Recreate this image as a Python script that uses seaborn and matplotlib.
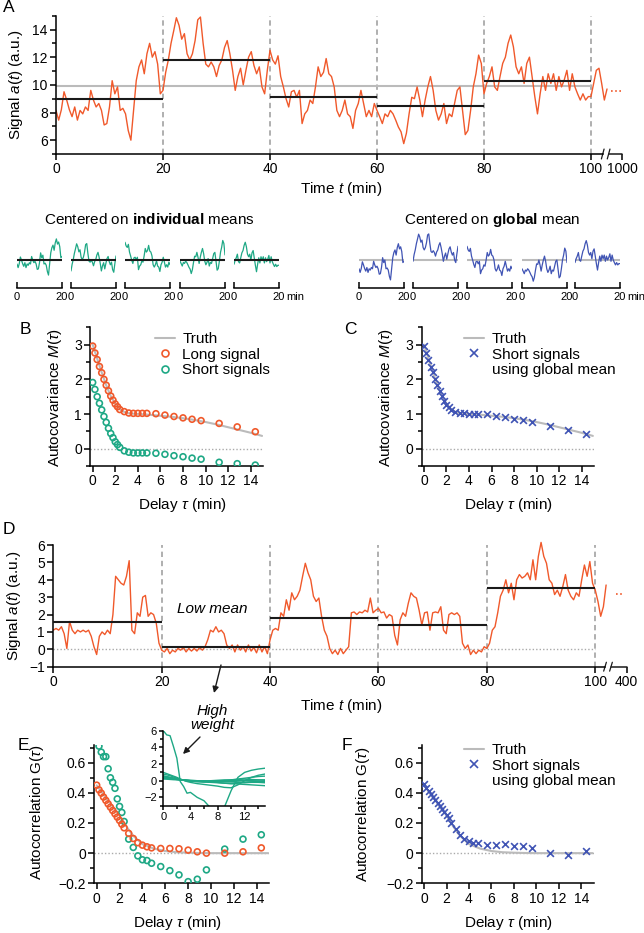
import numpy as np
import matplotlib
matplotlib.use("Agg")
import matplotlib.pyplot as plt
import seaborn as sns
from matplotlib.lines import Line2D

# ---- panel A: long signal (values every 0.5 min) ----
a_sig = [8.15, 7.45, 8.2, 9.5, 8.9, 8.2, 7.7, 8.4, 7.45, 8.15, 7.9, 8.4, 8.15, 9.6, 8.9, 8.4, 8.65, 8.15, 7.1, 7.2,
         8.4, 10.3, 9.35, 9.85, 8.15, 8.3, 7.9, 6.7, 6.0, 8.15, 10.3, 11.3, 11.8, 10.8, 12.25, 13.0, 12.0, 12.4, 11.5, 9.35,
         9.6, 10.9, 11.8, 13.0, 13.9, 14.85, 14.3, 13.3, 13.7, 12.25, 11.8, 12.25, 13.2, 14.7, 14.9, 13.0, 11.5, 11.3, 11.65, 11.3,
         10.6, 11.4, 11.8, 12.7, 13.2, 12.25, 11.05, 9.6, 10.6, 11.2, 10.0, 11.05, 12.0, 12.4, 11.4, 10.8, 11.3, 9.85, 9.35, 11.05,
         12.5, 11.8, 11.5, 12.1, 10.6, 9.85, 9.0, 8.4, 9.5, 9.6, 9.1, 9.6, 7.2, 7.9, 8.15, 8.9, 8.65, 9.85, 11.3, 10.6,
         10.9, 11.9, 10.8, 10.6, 9.85, 8.15, 7.7, 8.15, 8.9, 7.9, 7.7, 6.85, 8.15, 8.65, 9.6, 8.65, 7.7, 8.15, 7.7, 8.65,
         8.15, 7.7, 7.2, 7.9, 7.7, 8.15, 7.9, 7.45, 6.95, 6.6, 5.75, 6.5, 7.9, 9.1, 9.0, 9.85, 8.9, 7.7, 8.9, 9.85,
         10.6, 9.6, 8.15, 7.45, 7.9, 8.65, 7.2, 7.9, 7.7, 8.65, 9.6, 9.85, 8.15, 6.4, 6.7, 8.15, 9.85, 10.8, 12.15, 11.55,
         9.35, 10.1, 10.6, 11.3, 9.85, 9.6, 10.6, 11.55, 12.0, 13.0, 13.6, 12.75, 11.3, 10.8, 11.3, 10.1, 11.55, 12.0, 10.6, 9.15,
         7.9, 9.35, 10.6, 9.6, 10.8, 10.1, 10.8, 9.6, 10.6, 9.85, 10.35, 11.05, 9.6, 10.8, 9.85, 9.35, 8.9, 9.35, 8.9, 9.15,
         9.15, 10.1, 11.05, 11.2, 10.1, 8.9, 9.7]
a_means = [9.0, 11.8, 9.15, 8.45, 10.25]
a_global = 9.93

# ---- panel D: signal with low-mean piece ----
d_sig = [1.1, 1.2, 1.1, 1.3, 0.9, 0.05, 1.6, 1.1, 0.9, 1.1, 1.0, 1.1, 1.0, 1.1, 0.75, 0.15, -0.3, 0.75, 1.0, 0.85,
         1.1, 0.9, 2.0, 4.2, 4.0, 3.8, 3.7, 4.2, 5.1, 1.1, 0.9, 2.1, 1.9, 3.0, 3.1, 1.9, 2.1, 2.0, 1.5, 0.35,
         -0.05, -0.15, 0.05, -0.25, -0.05, -0.15, 0.05, -0.05, 0.1, -0.15, 0.05, -0.1, 0.05, -0.1, 0.1, -0.05, 0.15, 0.55, 1.1, 1.0,
         1.3, 1.0, 1.1, 0.9, 0.25, 0.05, 0.25, -0.15, 0.25, -0.05, 0.15, -0.15, 0.25, -0.1, 0.1, -0.2, 0.25, -0.15, 0.15, -0.25,
         0.55, 1.1, 1.2, 1.1, 2.1, 1.9, 2.85, 2.25, 3.25, 2.85, 3.05, 3.4, 4.2, 4.95, 4.4, 4.0, 3.05, 2.75, 2.95, 1.9,
         1.1, 0.75, 0.05, -0.25, -0.05, -0.3, 0.05, -0.25, -0.05, 0.15, 2.1, 2.15, 2.0, 2.15, 2.1, 2.25, 2.15, 2.95, 2.1, 2.25,
         2.35, 2.1, 2.15, 1.8, 2.0, 1.9, 0.8, 0.25, 1.7, 2.1, 1.9, 2.65, 3.25, 3.05, 2.95, 2.25, 1.4, 2.1, 2.15, 1.1,
         2.1, 2.15, 2.1, 2.45, 1.1, 0.9, 2.0, 2.1, 2.0, 2.1, 1.9, 0.35, 0.05, 0.25, -0.3, -0.05, -0.25, -0.05, -0.15, 0.15,
         0.05, 0.35, 1.1, 1.3, 2.1, 3.05, 3.4, 4.0, 3.25, 3.8, 2.85, 4.0, 4.3, 4.1, 4.2, 4.4, 4.0, 5.15, 4.0, 5.35,
         6.15, 5.35, 4.95, 4.0, 3.8, 3.15, 3.4, 3.05, 3.6, 4.3, 3.4, 3.05, 2.85, 3.25, 3.05, 4.0, 4.85, 4.2, 5.05, 3.8,
         3.4, 2.75, 1.9, 2.45, 3.7]
d_means = [1.58, 0.15, 1.82, 1.4, 3.52]

# ---- autocovariance / autocorrelation estimates ----
tau = [0, 0.2, 0.4, 0.6, 0.8, 1.0, 1.2, 1.4, 1.6, 1.8, 2.0, 2.2, 2.4,
       2.8, 3.2, 3.6, 4.0, 4.4, 4.8, 5.6, 6.4, 7.2, 8.0, 8.8, 9.6, 11.2, 12.8, 14.4]
m_long = [2.96, 2.76, 2.57, 2.37, 2.19, 2.0, 1.83, 1.67, 1.52, 1.4, 1.29, 1.21, 1.13,
          1.07, 1.03, 1.02, 1.02, 1.02, 1.02, 1.01, 0.97, 0.93, 0.89, 0.85, 0.81, 0.73, 0.63, 0.49]
m_short = [1.91, 1.71, 1.5, 1.31, 1.12, 0.93, 0.76, 0.59, 0.44, 0.32, 0.2, 0.12, 0.04,
           -0.06, -0.1, -0.12, -0.12, -0.12, -0.12, -0.13, -0.16, -0.2, -0.23, -0.27, -0.3, -0.39, -0.43, -0.47]
m_global = [2.95, 2.75, 2.57, 2.37, 2.2, 2.02, 1.83, 1.67, 1.52, 1.38, 1.27, 1.19, 1.12,
            1.06, 1.03, 1.02, 1.01, 1.01, 1.0, 0.99, 0.95, 0.91, 0.87, 0.82, 0.77, 0.66, 0.55, 0.43]
g_long = [0.451, 0.42, 0.398, 0.372, 0.35, 0.327, 0.305, 0.283, 0.261, 0.239, 0.217, 0.192, 0.168,
          0.131, 0.097, 0.069, 0.053, 0.042, 0.035, 0.031, 0.031, 0.029, 0.02, 0.009, 0.0, 0.0, 0.009, 0.035]
g_short = [0.71, 0.67, 0.64, 0.64, 0.56, 0.50, 0.47, 0.43, 0.36, 0.31, 0.27, 0.21,
           0.093, 0.038, -0.018, -0.044, -0.049, -0.067, -0.089, -0.116, -0.144, -0.189, -0.173, -0.111,
           0.027, 0.093, 0.122]  # from tau = 0.2
g_global = [0.46, 0.43, 0.41, 0.39, 0.37, 0.35, 0.33, 0.31, 0.29, 0.27, 0.25, 0.23, 0.2,
            0.16, 0.12, 0.095, 0.08, 0.07, 0.065, 0.055, 0.055, 0.058, 0.05, 0.045, 0.035, 0.0, -0.013, 0.013]
tau_truth = [0, 0.4, 0.8, 1.2, 1.6, 2.0, 2.4, 2.8, 3.2, 4, 5, 6, 7, 8, 9, 10, 11, 12, 13, 14, 15]
m_truth = [3.0, 2.6, 2.2, 1.83, 1.52, 1.3, 1.14, 1.06, 1.02, 1.0, 0.98, 0.95, 0.92, 0.88, 0.83,
           0.77, 0.7, 0.62, 0.54, 0.46, 0.37]
g_truth = [0.45, 0.41, 0.37, 0.33, 0.29, 0.25, 0.2, 0.155, 0.115, 0.06, 0.03, 0.014, 0.006, 0.003,
           0.001, 0, 0, 0, 0, 0, 0]

# ---- inset: per-signal weighted curves ----
inset_tau = [0, 0.5, 1, 1.5, 2, 2.5, 3, 3.5, 4, 5, 6, 7, 8, 9, 10, 11, 12, 13, 14, 15]
inset_curves = [
    [6.0, 5.5, 5.4, 4.1, 2.7, -0.1, -0.7, -1.5, -1.4, -2.0, -2.4, -3.3, -4.5, -3.2, -1.2, 0.4, 1.0, 1.25, 1.4, 1.5],
    [1.0, 0.85, 0.7, 0.55, 0.4, 0.2, 0.05, -0.1, -0.2, -0.35, -0.45, -0.55, -0.65, -0.8, -0.85, -0.5, 0.0, 0.4, 0.65, 0.8],
    [0.8, 0.7, 0.6, 0.45, 0.3, 0.15, 0.05, 0, -0.05, -0.1, -0.15, -0.2, -0.25, -0.3, -0.35, -0.4, -0.45, -0.5, -0.55, -0.6],
    [0.5, 0.45, 0.4, 0.3, 0.2, 0.1, 0.05, 0, -0.05, -0.1, -0.15, -0.1, -0.05, 0, 0.1, 0.2, 0.3, 0.4, 0.5, 0.55],
    [0.4, 0.35, 0.3, 0.25, 0.2, 0.15, 0.1, 0.05, 0, -0.05, -0.1, -0.1, -0.05, 0, 0, 0.05, 0.05, 0.1, 0.1, 0.1],
    [0.3, 0.28, 0.25, 0.2, 0.15, 0.1, 0.05, 0.0, -0.05, -0.1, -0.1, -0.15, -0.15, -0.1, -0.1, -0.05, 0, 0, -0.05, -0.1],
    [0.6, 0.5, 0.4, 0.3, 0.2, 0.1, 0.05, 0, -0.02, -0.05, -0.05, 0, 0.05, 0.1, 0.1, 0.15, 0.2, 0.15, 0.1, 0.05],
    [0.2, 0.18, 0.15, 0.12, 0.1, 0.08, 0.05, 0.02, 0, -0.02, -0.05, -0.08, -0.1, -0.12, -0.15, -0.2, -0.25, -0.2, -0.2, -0.25],
    [0.35, 0.3, 0.25, 0.2, 0.15, 0.12, 0.1, 0.05, 0.02, 0, -0.05, -0.1, -0.2, -0.3, -0.35, -0.3, -0.2, -0.15, -0.1, -0.1],
    [0.45, 0.4, 0.35, 0.28, 0.22, 0.15, 0.1, 0.08, 0.05, 0.0, -0.02, -0.05, -0.05, -0.02, 0.0, 0.02, 0.0, -0.05, -0.1, -0.12],
]

ORANGE = "#f0592b"
GREEN = "#1ea885"
BLUE = "#4054b4"
LGRAY = "#bbbbbb"
DGRAY = "#9a9a9a"

sns.set_theme(style="ticks")
plt.rcParams["font.family"] = ["Liberation Sans", "DejaVu Sans"]
plt.rcParams.update({
    "mathtext.fontset": "custom",
    "mathtext.rm": "Liberation Sans",
    "mathtext.it": "Liberation Sans:italic",
    "mathtext.bf": "Liberation Sans:bold",
    "axes.edgecolor": "black",
    "axes.linewidth": 1.1,
    "xtick.color": "black",
    "ytick.color": "black",
    "text.color": "black",
    "axes.labelcolor": "black",
})

W, H = 644, 933
fig = plt.figure(figsize=(W / 100, H / 100), dpi=100)


def box(x0, y0, x1, y1):
    return [x0 / W, 1 - y1 / H, (x1 - x0) / W, (y1 - y0) / H]


def fxy(x, y):
    return (x / W, 1 - y / H)


def style(ax, fs=10):
    for s in ["top", "right"]:
        ax.spines[s].set_visible(False)
    ax.set_facecolor("none")
    ax.tick_params(labelsize=fs, length=4, width=1.1, direction="out", pad=2)
    ax.tick_params(which="minor", length=3, width=1.1)
    ax.set_xlabel("")
    ax.set_ylabel("")


def axis_break(ax, xb0, xb1, xend):
    ax.spines["bottom"].set_bounds(0, xb0)
    tr = ax.get_xaxis_transform()
    ax.plot([xb1, xend], [0, 0], transform=tr, color="k", lw=1.1, clip_on=False)
    for xb in (xb0, xb1):
        ax.plot([xb - 0.25, xb + 0.25], [-0.035, 0.035], transform=tr, color="k", lw=0.9, clip_on=False)


def letter(s, x, y):
    fig.text(*fxy(x, y), s, fontsize=12.5, ha="left", va="center")


def label(s, x, y, rot=0):
    fig.text(*fxy(x, y), s, fontsize=11, ha="center", va="center", rotation=rot)


a_t = np.arange(len(a_sig)) * 0.5
a_arr = np.array(a_sig)
d_t = np.arange(len(d_sig)) * 0.5

# ---------------- A ----------------
axA = fig.add_axes(box(56, 12.9, 622, 154))
axA.vlines([20, 40, 60, 80, 100], 5, 15, colors=DGRAY, linestyles=(0, (3.5, 2.5)), lw=1.1)
axA.hlines(a_global, 0, 100, colors=LGRAY, lw=1.5)
sns.lineplot(x=a_t, y=a_sig, ax=axA, color=ORANGE, lw=1, estimator=None, sort=False)
for i, m in enumerate(a_means):
    axA.hlines(m, 20 * i, 20 * i + 20, colors="k", lw=1.5, zorder=4)
axA.plot([103.8, 105.6], [9.55, 9.55], ls=(0, (1, 1.5)), color=ORANGE, lw=1.2, clip_on=False)
axA.set_xlim(0, 105.8)
axA.set_ylim(5, 15.2)
style(axA)
axA.spines["left"].set_bounds(5, 15)
axA.set_yticks([6, 8, 10, 12, 14])
axA.set_yticks(range(5, 16, 2), minor=True)
axA.set_xticks([0, 20, 40, 60, 80, 100, 105.8], labels=["0", "20", "40", "60", "80", "100", "1000"])
axis_break(axA, 102.2, 103.3, 105.8)
letter("A", 3, 8)
label("Signal $a(t)$ (a.u.)", 16, 85, 90)
label("Time $t$ (min)", 341, 189)

# ---------------- small multiples ----------------
fig.text(*fxy(149, 220), r"Centered on $\mathbf{individual}$ means", fontsize=11, ha="center", va="center")
fig.text(*fxy(492, 220), r"Centered on $\mathbf{global}$ mean", fontsize=11, ha="center", va="center")
left_x = [17, 71, 125, 180, 234]
right_x = [359, 413, 467, 522, 575]
for i in range(5):
    msk = (a_t >= 20 * i) & (a_t <= 20 * i + 20)
    seg_t = a_t[msk] - 20 * i
    for x0, ref, col, lc, lz in ((left_x[i], a_means[i], GREEN, "k", 4), (right_x[i], a_global, BLUE, LGRAY, 1)):
        ax = fig.add_axes(box(x0, 226, x0 + 45, 288))
        ax.hlines(0, 0, 20, colors=lc, lw=1.5, zorder=lz)
        sns.lineplot(x=seg_t, y=a_arr[msk] - ref, ax=ax, color=col, lw=0.9, estimator=None, sort=False)
        ax.set_xlim(0, 20)
        ax.set_ylim(-5.5, 6.5)
        style(ax, 8)
        ax.spines["left"].set_visible(False)
        ax.set_yticks([])
        ax.set_xticks([0, 20], labels=["0", "20"])
        ax.tick_params(axis="x", direction="in", length=4, pad=3)
        if i == 4:
            ax.annotate("min", xy=(20, 0), xycoords=ax.get_xaxis_transform(), xytext=(5, -3),
                        textcoords="offset points", fontsize=8, ha="left", va="top", annotation_clip=False)

# ---------------- B ----------------
tau_s = tau[1:]
axB = fig.add_axes(box(90.4, 327.3, 263.2, 466.1))
axB.axhline(0, color="#aaaaaa", ls=(0, (1, 1.5)), lw=1)
sns.lineplot(x=tau_truth, y=m_truth, ax=axB, color=LGRAY, lw=1.5, estimator=None)
sns.scatterplot(x=tau, y=m_long, ax=axB, marker="o", s=18, fc="none", ec=ORANGE, linewidth=1.2, zorder=3)
sns.scatterplot(x=tau, y=m_short, ax=axB, marker="o", s=18, fc="none", ec=GREEN, linewidth=1.2, zorder=3)
axB.set_xlim(-0.2, 15.1)
axB.set_ylim(-0.5, 3.5)
style(axB)
axB.set_xticks(range(0, 15, 2))
axB.set_yticks([0, 1, 2, 3])
axB.set_yticks([-0.5, 0.5, 1.5, 2.5, 3.5], minor=True)
axB.legend(handles=[
    Line2D([], [], color=LGRAY, lw=1.5, label="Truth"),
    Line2D([], [], ls="", marker="o", ms=5, mfc="none", mec=ORANGE, mew=1.2, label="Long signal"),
    Line2D([], [], ls="", marker="o", ms=5, mfc="none", mec=GREEN, mew=1.2, label="Short signals"),
], loc="upper left", bbox_to_anchor=fxy(155, 332), bbox_transform=fig.transFigure, frameon=False,
    fontsize=11, handlelength=1.3, handletextpad=0.5, labelspacing=0.1, borderpad=0, borderaxespad=0)
letter("B", 20, 329)
label(r"Autocovariance $M(\tau)$", 55, 398, 90)
label(r"Delay $\tau$ (min)", 182, 505)

# ---------------- C ----------------
axC = fig.add_axes(box(421.7, 327.3, 594, 466.1))
axC.axhline(0, color="#aaaaaa", ls=(0, (1, 1.5)), lw=1)
sns.lineplot(x=tau_truth, y=m_truth, ax=axC, color=LGRAY, lw=1.5, estimator=None)
sns.scatterplot(x=tau, y=m_global, ax=axC, marker="x", s=24, color=BLUE, linewidth=1.2, zorder=3)
axC.set_xlim(-0.2, 15.1)
axC.set_ylim(-0.5, 3.5)
style(axC)
axC.set_xticks(range(0, 15, 2))
axC.set_yticks([0, 1, 2, 3])
axC.set_yticks([-0.5, 0.5, 1.5, 2.5, 3.5], minor=True)
glob_handles = [
    Line2D([], [], color=LGRAY, lw=1.5, label="Truth"),
    Line2D([], [], ls="", marker="x", ms=6, color=BLUE, mew=1.2, label="Short signals"),
    Line2D([], [], ls="", label="using global mean"),
]
axC.legend(handles=glob_handles, loc="upper left", bbox_to_anchor=fxy(464, 332), bbox_transform=fig.transFigure,
           frameon=False, fontsize=11, handlelength=1.3, handletextpad=0.5, labelspacing=0.1, borderpad=0,
           borderaxespad=0)
letter("C", 344, 329)
label(r"Autocovariance $M(\tau)$", 386, 398, 90)
label(r"Delay $\tau$ (min)", 508, 505)

# ---------------- D ----------------
axD = fig.add_axes(box(53.3, 539.8, 626.7, 666.7))
axD.vlines([20, 40, 60, 80, 100], -1, 6, colors=DGRAY, linestyles=(0, (3.5, 2.5)), lw=1.1)
axD.hlines(0, 0, 100, colors="#aaaaaa", linestyles=(0, (1, 1.5)), lw=1)
sns.lineplot(x=d_t, y=d_sig, ax=axD, color=ORANGE, lw=1, estimator=None, sort=False)
for i, m in enumerate(d_means):
    axD.hlines(m, 20 * i, 20 * i + 20, colors="k", lw=1.5, zorder=4)
axD.plot([103.8, 105.2], [3.2, 3.2], ls=(0, (1, 1.5)), color=ORANGE, lw=1.2, clip_on=False)
axD.text(29.4, 2.33, "Low mean", fontsize=11, style="italic", ha="center", va="center")
axD.set_xlim(0, 105.8)
axD.set_ylim(-1, 6.3)
style(axD)
axD.spines["left"].set_bounds(-1, 6)
axD.set_yticks(range(-1, 7))
axD.set_xticks([0, 20, 40, 60, 80, 100, 105.8], labels=["0", "20", "40", "60", "80", "100", "400"])
axis_break(axD, 101.8, 102.9, 105.8)
letter("D", 3, 529)
label("Signal $a(t)$ (a.u.)", 14, 606, 90)
label("Time $t$ (min)", 341, 706)
fig.text(*fxy(212, 718), "High\nweight", fontsize=11, style="italic", ha="center", va="center", linespacing=1.0)
arrow = dict(arrowstyle="-|>", color="k", lw=1, mutation_scale=9, shrinkA=0, shrinkB=0)
axD.annotate("", xy=fxy(214, 693), xycoords="figure fraction", xytext=fxy(221, 665),
             textcoords="figure fraction", arrowprops=arrow, annotation_clip=False)

# ---------------- E ----------------
axE = fig.add_axes(box(94.4, 744.6, 269.3, 883.3))
axE.axhline(0, color="#aaaaaa", ls=(0, (1, 1.5)), lw=1)
sns.lineplot(x=tau_truth, y=g_truth, ax=axE, color=LGRAY, lw=1.5, estimator=None)
sns.scatterplot(x=tau_s, y=g_short, ax=axE, marker="o", s=18, fc="none", ec=GREEN, linewidth=1.2, zorder=3)
sns.scatterplot(x=tau, y=g_long, ax=axE, marker="o", s=18, fc="none", ec=ORANGE, linewidth=1.2, zorder=3)
axE.set_xlim(-0.2, 15.1)
axE.set_ylim(-0.2, 0.72)
style(axE)
axE.set_xticks(range(0, 15, 2))
axE.set_yticks([-0.2, 0, 0.2, 0.4, 0.6], labels=["\u22120.2", "0", "0.2", "0.4", "0.6"])
axE.set_yticks([-0.1, 0.1, 0.3, 0.5, 0.7], minor=True)
letter("E", 18, 745)
label(r"Autocorrelation G($\tau$)", 37, 812, 90)
label(r"Delay $\tau$ (min)", 177, 923)

axI = fig.add_axes(box(163.3, 730.7, 265, 805.7))
for curve in inset_curves:
    sns.lineplot(x=inset_tau, y=curve, ax=axI, color=GREEN, lw=1.0, estimator=None)
axI.set_xlim(0, 15)
axI.set_ylim(-3, 6)
style(axI, 8)
axI.tick_params(length=3, pad=1.5)
axI.tick_params(which="minor", length=2)
axI.set_xticks([0, 4, 8, 12])
axI.set_xticks([2, 6, 10, 14], minor=True)
axI.set_yticks([-2, 0, 2, 4, 6])
axI.set_yticks([-3, -1, 1, 3, 5], minor=True)
axI.annotate("", xy=fxy(183, 754), xycoords="figure fraction", xytext=fxy(200, 737),
             textcoords="figure fraction", arrowprops=arrow, annotation_clip=False)

# ---------------- F ----------------
axF = fig.add_axes(box(421.8, 744.6, 593.7, 883.3))
axF.axhline(0, color="#aaaaaa", ls=(0, (1, 1.5)), lw=1)
sns.lineplot(x=tau_truth, y=g_truth, ax=axF, color=LGRAY, lw=1.5, estimator=None)
sns.scatterplot(x=tau, y=g_global, ax=axF, marker="x", s=24, color=BLUE, linewidth=1.2, zorder=3)
axF.set_xlim(-0.2, 15.1)
axF.set_ylim(-0.2, 0.72)
style(axF)
axF.set_xticks(range(0, 15, 2))
axF.set_yticks([-0.2, 0, 0.2, 0.4, 0.6], labels=["\u22120.2", "0", "0.2", "0.4", "0.6"])
axF.set_yticks([-0.1, 0.1, 0.3, 0.5, 0.7], minor=True)
axF.legend(handles=glob_handles, loc="upper left", bbox_to_anchor=fxy(464, 743), bbox_transform=fig.transFigure,
           frameon=False, fontsize=11, handlelength=1.3, handletextpad=0.5, labelspacing=0.1, borderpad=0,
           borderaxespad=0)
letter("F", 342, 745)
label(r"Autocorrelation G($\tau$)", 363, 814, 90)
label(r"Delay $\tau$ (min)", 508, 923)

fig.savefig("out.png", dpi=100)
